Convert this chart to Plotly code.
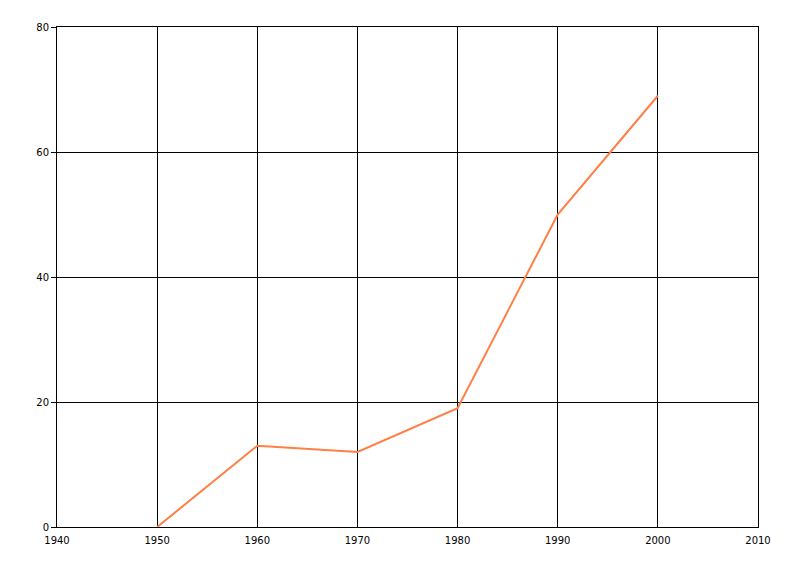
import plotly.graph_objects as go

years = [1950, 1960, 1970, 1980, 1990, 2000]
values = [0, 13, 12, 19, 50, 69]
x_ticks = [1940, 1950, 1960, 1970, 1980, 1990, 2000, 2010]
y_ticks = [0, 20, 40, 60, 80]

fig = go.Figure()
fig.add_trace(go.Scatter(x=years, y=values, mode="lines",
                         line=dict(color="#FF7F45", width=2)))

fig.update_layout(
    width=792, height=568,
    margin=dict(l=49, r=42, t=19, b=49),
    paper_bgcolor="white", plot_bgcolor="white",
    showlegend=False,
    font=dict(family="DejaVu Sans, Verdana, sans-serif", size=10, color="black"),
)
fig.update_xaxes(range=[1940, 2010], tickvals=x_ticks, ticktext=[str(v) for v in x_ticks],
                 showgrid=True, gridcolor="black", gridwidth=1,
                 showline=True, linecolor="black", linewidth=1, mirror=True,
                 zeroline=False, ticks="", ticklen=0, ticklabelstandoff=4)
fig.update_yaxes(range=[0, 80], tickvals=y_ticks, ticktext=[str(v) for v in y_ticks],
                 showgrid=True, gridcolor="black", gridwidth=1,
                 showline=True, linecolor="black", linewidth=1, mirror=True,
                 zeroline=False, ticks="outside", ticklen=5, tickcolor="black")

fig.write_html("out.html")
